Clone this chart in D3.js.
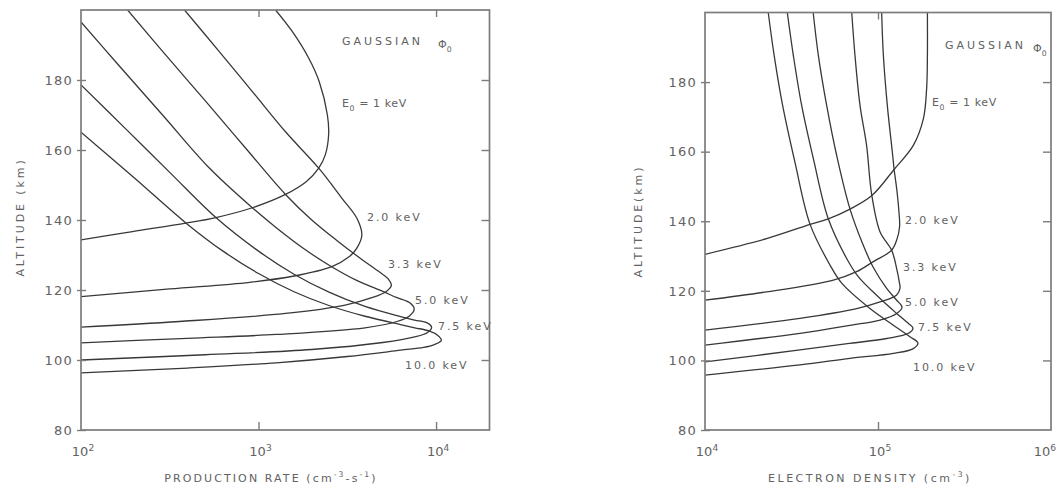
<!DOCTYPE html>
<html>
<head>
<meta charset="utf-8">
<script src="https://cdn.jsdelivr.net/npm/d3@7"></script>
<style>
  body { margin: 0; background: #fff; }
  svg { display: block; }
  text { font-family: "DejaVu Sans", sans-serif; fill: #626262; }
</style>
</head>
<body>
<svg id="chart" width="1057" height="488"></svg>
<script>
// ---- values -------------------------------------------------------------
const altitudeTicks = [80, 100, 120, 140, 160, 180];
const productionTicks = [1e2, 1e3, 1e4];
const densityTicks = [1e4, 1e5, 1e6];
const energyLabels = ["1", "2.0", "3.3", "5.0", "7.5", "10.0"]; // keV

// Ionization production rate profiles, [altitude (km), rate (cm^-3 s^-1)]
const production1keV = [[134.3,100],[136.7,195],[139.1,389],[140.7,575],[143.5,923],[147.3,1419],[151.0,1862],[154.8,2183],[158.6,2377],[164.5,2483],[170.0,2443],[179.5,2198],[186.2,1919],[193.8,1552],[200.0,1247]];
const production2keV = [[118.1,100],[120.3,316],[122.2,891],[124.0,1585],[126.7,2588],[129.5,3236],[131.9,3573],[135.7,3819],[140.5,3581],[146.2,2951],[154.8,2183],[165.2,1419],[176.7,923],[188.1,601],[200.0,383]];
const production3keV = [[109.4,100],[111.0,359],[113.3,1419],[115.7,3076],[117.8,4345],[119.6,5248],[121.3,5598],[123.2,5370],[125.2,4786],[128.8,3802],[133.8,2818],[140.0,1995],[147.3,1419],[160.5,847],[173.8,506],[188.1,289],[200.0,183]];
const production5keV = [[104.9,100],[106.2,398],[107.3,1259],[109.2,3981],[111.0,6026],[112.6,7079],[114.6,7534],[116.4,7079],[117.8,6026],[119.6,5012],[122.8,3548],[127.0,2512],[132.0,1778],[137.8,1259],[143.5,923],[155.0,525],[170.0,288],[185.0,158],[196.6,100]];
const production7keV = [[100.0,100],[101.5,501],[103.0,1995],[105.0,5012],[106.6,7586],[107.8,8913],[109.3,9441],[110.6,8913],[111.4,7586],[112.4,6310],[115.3,3981],[119.3,2512],[124.5,1585],[131.1,1000],[140.7,575],[153.6,316],[166.1,178],[178.6,100]];
const production10keV = [[96.3,100],[97.7,398],[99.2,1259],[101.0,3162],[102.8,6310],[103.6,8511],[104.4,9772],[105.6,10715],[107.0,10233],[108.3,9120],[109.2,7586],[110.1,6310],[112.5,3981],[115.5,2512],[119.5,1585],[124.7,1000],[131.1,631],[139.1,391],[152.0,200],[165.1,100]];

// Electron density profiles, [altitude (km), density (cm^-3)]
const density1keV = [[130.5,1.0e4],[135.0,2.27e4],[139.1,4.05e4],[140.7,5.16e4],[143.5,6.89e4],[147.3,9.18e4],[154.8,1.235e5],[161.8,1.60e5],[169.5,1.83e5],[178.1,1.91e5],[187.7,1.93e5],[200.0,1.93e5]];
const density2keV = [[117.3,1.0e4],[119.7,2.27e4],[123.1,5.52e4],[125.5,7.53e4],[128.4,9.40e4],[131.7,1.20e5],[135.0,1.29e5],[138.5,1.333e5],[143.0,1.32e5],[149.4,1.282e5],[154.8,1.24e5],[158.9,1.216e5],[173.3,1.132e5],[187.7,1.074e5],[200.0,1.05e5]];
const density3keV = [[108.7,1.0e4],[112.1,3.54e4],[114.9,7.53e4],[116.8,1.028e5],[118.8,1.282e5],[120.7,1.34e5],[122.6,1.327e5],[126.4,1.282e5],[131.7,1.199e5],[136.9,1.028e5],[147.9,9.18e4],[161.8,8.59e4],[173.3,7.87e4],[187.7,7.36e4],[200.0,7.05e4]];
const density5keV = [[104.4,1.0e4],[107.8,3.54e4],[110.1,6.89e4],[111.6,1.028e5],[113.5,1.282e5],[115.3,1.377e5],[117.3,1.282e5],[120.7,1.122e5],[126.7,9.40e4],[133.1,8.22e4],[143.5,6.89e4],[158.9,5.77e4],[173.3,5.05e4],[187.7,4.52e4],[200.0,4.22e4]];
const density7keV = [[99.6,1.0e4],[103.0,3.54e4],[104.9,6.89e4],[106.3,1.122e5],[107.8,1.50e5],[109.3,1.592e5],[110.6,1.50e5],[113.5,1.282e5],[117.8,1.028e5],[124.0,7.71e4],[129.3,6.59e4],[140.7,5.16e4],[158.0,4.23e4],[173.3,3.62e4],[187.7,3.24e4],[200.0,2.99e4]];
const density10keV = [[95.8,1.0e4],[98.7,3.54e4],[100.6,6.89e4],[102.0,1.227e5],[103.4,1.60e5],[105.0,1.702e5],[106.8,1.531e5],[110.1,1.227e5],[114.9,8.99e4],[122.2,6.17e4],[127.4,5.28e4],[139.1,4.05e4],[157.0,3.31e4],[173.3,2.81e4],[187.7,2.51e4],[200.0,2.32e4]];

// ---- layout -------------------------------------------------------------
const W = 1057;
const panels = [
  {
    id: "production",
    left: 81, right: 489.5, top: 10, bottom: 430,
    xDomain: [1e2, 2e4],
    xTicks: productionTicks,
    series: [production1keV, production2keV, production3keV, production5keV, production7keV, production10keV],
    yTitle: "ALTITUDE (km)", yTitlePos: [24, 217],
    xTitle: [["PRODUCTION RATE (cm"], ["-3", "sup"], ["-s"], ["-1", "sup"], [")"]], xTitlePos: [271, 482], xTitleSpacing: 2.1,
    gaussian: [261, 35], phi: [357, 38],
    energyPos: [[261, 97], [286, 211], [307, 258], [334, 294], [357, 320], [324, 359]]
  },
  {
    id: "density",
    left: 705, right: 1051, top: 12.5, bottom: 430,
    xDomain: [1e4, 1e6],
    xTicks: densityTicks,
    series: [density1keV, density2keV, density3keV, density5keV, density7keV, density10keV],
    yTitle: "ALTITUDE(km)", yTitlePos: [642, 221],
    xTitle: [["ELECTRON DENSITY (cm"], ["-3", "sup"], [")"]], xTitlePos: [870, 482], xTitleSpacing: 2.5,
    gaussian: [240, 36.5], phi: [328, 39.5],
    energyPos: [[227, 93.5], [200, 211.5], [198, 258.5], [200, 293.5], [213, 318.5], [208, 358.5]]
  }
];

const svg = d3.select("#chart");
const inkCurve = "#383838";
const inkFrame = "#7c7c7c";
const inkText = "#626262";

// text with superscript / subscript pieces
function addRich(sel, parts, size) {
  let shift = 0;
  parts.forEach(([str, kind]) => {
    const target = kind === "sup" ? -0.42 * size : kind === "sub" ? 0.32 * size : 0;
    sel.append("tspan")
      .attr("dy", target - shift)
      .attr("font-size", kind ? size * 0.7 : size)
      .text(str);
    shift = target;
  });
}

panels.forEach(cfg => {
  const x = d3.scaleLog().domain(cfg.xDomain).range([cfg.left, cfg.right]);
  const y = d3.scaleLinear().domain([80, 200]).range([cfg.bottom, cfg.top]);
  const g = svg.append("g").attr("class", cfg.id);

  svg.append("clipPath").attr("id", cfg.id + "-clip")
    .append("rect")
    .attr("x", cfg.left).attr("y", cfg.top)
    .attr("width", cfg.right - cfg.left).attr("height", cfg.bottom - cfg.top);

  // profiles
  const line = d3.line()
    .x(d => x(d[1]))
    .y(d => y(d[0]))
    .curve(d3.curveCatmullRom.alpha(0.5));

  g.append("g").attr("clip-path", `url(#${cfg.id}-clip)`)
    .selectAll("path").data(cfg.series).join("path")
    .attr("d", line)
    .attr("fill", "none")
    .attr("stroke", inkCurve)
    .attr("stroke-width", 1.3);

  // frame
  g.append("rect")
    .attr("x", cfg.left).attr("y", cfg.top)
    .attr("width", cfg.right - cfg.left).attr("height", cfg.bottom - cfg.top)
    .attr("fill", "none").attr("stroke", inkFrame).attr("stroke-width", 1.7);

  const styleAxis = a => {
    a.select(".domain").remove();
    a.selectAll(".tick line").attr("stroke", inkFrame).attr("stroke-width", 1.4);
    a.attr("font-family", null).attr("font-size", null);
  };

  // left altitude axis with labels
  g.append("g")
    .attr("transform", `translate(${cfg.left + 5},0)`)
    .call(d3.axisLeft(y).tickValues(altitudeTicks).tickSizeInner(9).tickSizeOuter(0).tickPadding(4))
    .call(styleAxis)
    .call(a => a.selectAll(".tick text")
      .attr("font-size", 13).attr("letter-spacing", 1.2).attr("fill", inkText));

  // right altitude ticks (inward)
  g.append("g")
    .attr("transform", `translate(${cfg.right},0)`)
    .call(d3.axisRight(y).tickValues(altitudeTicks.slice(1)).tickSizeInner(-8).tickSizeOuter(0).tickFormat(""))
    .call(styleAxis);

  // bottom and top decade ticks (inward)
  const inner = cfg.xTicks.filter(v => x(v) > cfg.left + 2 && x(v) < cfg.right - 2);
  g.append("g")
    .attr("transform", `translate(0,${cfg.bottom})`)
    .call(d3.axisBottom(x).tickValues(inner).tickSizeInner(-8).tickSizeOuter(0).tickFormat(""))
    .call(styleAxis);
  g.append("g")
    .attr("transform", `translate(0,${cfg.top})`)
    .call(d3.axisTop(x).tickValues(inner).tickSizeInner(-7).tickSizeOuter(0).tickFormat(""))
    .call(styleAxis);

  // decade labels 10^n (kept inside the page at the right edge)
  cfg.xTicks.forEach(v => {
    const px = x(v);
    const atEdge = px + 12 > W;
    const t = g.append("text")
      .attr("x", atEdge ? W - 1 : px + 2).attr("y", 456)
      .attr("text-anchor", atEdge ? "end" : "middle");
    addRich(t, [["10"], [String(Math.round(Math.log10(v))), "sup"]], 13);
  });

  // axis titles
  g.append("text")
    .attr("transform", `translate(${cfg.yTitlePos[0]},${cfg.yTitlePos[1]}) rotate(-90)`)
    .attr("text-anchor", "middle")
    .attr("font-size", 11).attr("letter-spacing", 2.9)
    .text(cfg.yTitle);

  const xt = g.append("text")
    .attr("x", cfg.xTitlePos[0]).attr("y", cfg.xTitlePos[1])
    .attr("text-anchor", "middle")
    .attr("letter-spacing", cfg.xTitleSpacing);
  addRich(xt, cfg.xTitle, 11);

  // annotations
  g.append("text")
    .attr("x", cfg.left + cfg.gaussian[0]).attr("y", cfg.top + cfg.gaussian[1])
    .attr("font-size", 11).attr("letter-spacing", 3)
    .text("GAUSSIAN");
  const phi = g.append("text")
    .attr("x", cfg.left + cfg.phi[0]).attr("y", cfg.top + cfg.phi[1]);
  addRich(phi, [["\u03A6"], ["0", "sub"]], 11);

  energyLabels.forEach((e, i) => {
    const [dx, dy] = cfg.energyPos[i];
    const t = g.append("text")
      .attr("x", cfg.left + dx).attr("y", cfg.top + dy)
      .attr("letter-spacing", i === 0 ? 0.6 : 1.9);
    if (i === 0) {
      addRich(t, [["E"], ["0", "sub"], [" = " + e + " keV"]], 11);
    } else {
      addRich(t, [[e + " keV"]], 11);
    }
  });
});
</script>
</body>
</html>
